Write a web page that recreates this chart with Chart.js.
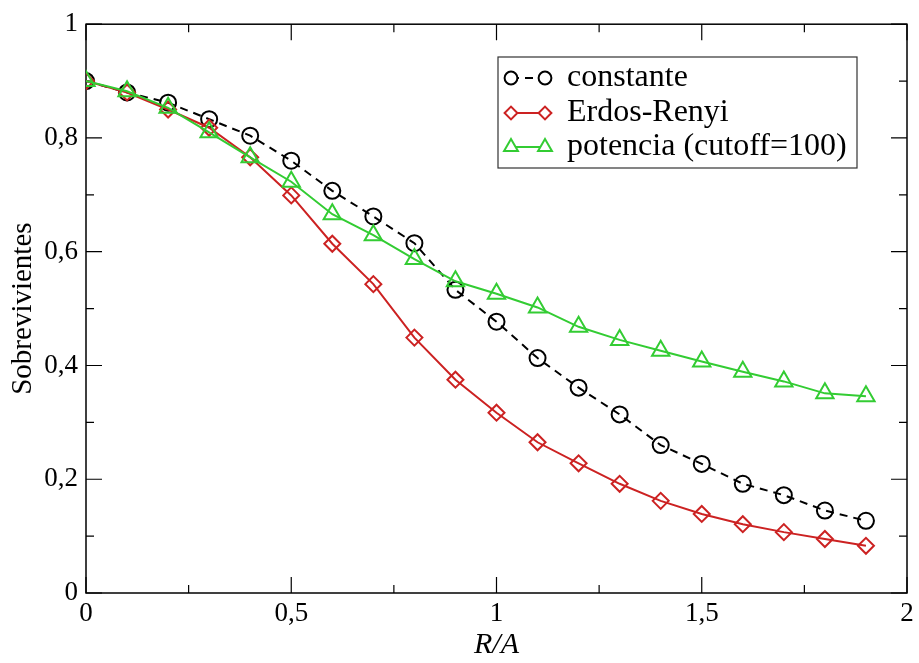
<!DOCTYPE html>
<html>
<head>
<meta charset="utf-8">
<script src="https://cdn.jsdelivr.net/npm/chart.js@4/dist/chart.umd.min.js"></script>
<style>
  html, body { margin: 0; padding: 0; background: #fff; }
  #wrap { width: 919px; height: 663px; }
</style>
</head>
<body>
<div id="wrap"><canvas id="sobrevChart"></canvas></div>
<script>
// R/A en el eje x
const radios = [0, 0.1, 0.2, 0.3, 0.4, 0.5, 0.6, 0.7, 0.8, 0.9,
                1.0, 1.1, 1.2, 1.3, 1.4, 1.5, 1.6, 1.7, 1.8, 1.9];

const constante = [0.900, 0.880, 0.862, 0.833, 0.804, 0.760, 0.707, 0.662, 0.615, 0.533,
                   0.477, 0.413, 0.361, 0.314, 0.260, 0.227, 0.192, 0.172, 0.145, 0.127];
const erdosRenyi = [0.900, 0.880, 0.850, 0.818, 0.766, 0.699, 0.614, 0.543, 0.449, 0.375,
                    0.317, 0.265, 0.228, 0.192, 0.162, 0.139, 0.121, 0.107, 0.095, 0.083];
const potencia = [0.900, 0.882, 0.853, 0.810, 0.766, 0.723, 0.666, 0.629, 0.587, 0.548,
                  0.526, 0.502, 0.468, 0.445, 0.426, 0.407, 0.389, 0.372, 0.351, 0.346];

const xTicks = [0, 0.5, 1, 1.5, 2];
const yTicks = [0, 0.2, 0.4, 0.6, 0.8, 1];

const serif = "'Liberation Serif', 'Times New Roman', serif";
const coma = v => String(Math.round(v * 10) / 10).replace('.', ',');
const puntos = ys => radios.map((x, i) => ({ x: x, y: ys[i] }));

// marco con marcas hacia adentro en los cuatro lados
const marco = {
    id: 'marco',
    beforeDatasetsDraw(chart) {
        const { ctx, chartArea: a, scales: { x, y } } = chart;
        ctx.save();
        ctx.strokeStyle = '#000';
        ctx.lineWidth = 1.5;
        ctx.strokeRect(a.left, a.top, a.right - a.left, a.bottom - a.top);
        ctx.lineWidth = 1.2;
        ctx.beginPath();
        for (let i = 0; i <= 8; i++) {
            const v = i * 0.25;
            const px = x.getPixelForValue(v);
            const len = i % 2 === 0 ? 16 : 8;
            ctx.moveTo(px, a.bottom); ctx.lineTo(px, a.bottom - len);
            ctx.moveTo(px, a.top); ctx.lineTo(px, a.top + len);
        }
        for (let i = 0; i <= 10; i++) {
            const v = i * 0.1;
            const py = y.getPixelForValue(v);
            const len = i % 2 === 0 ? 16 : 8;
            ctx.moveTo(a.left, py); ctx.lineTo(a.left + len, py);
            ctx.moveTo(a.right, py); ctx.lineTo(a.right - len, py);
        }
        ctx.stroke();
        ctx.restore();
    }
};

// leyenda al estilo xmgrace: dos símbolos unidos por la línea
const leyenda = {
    id: 'leyenda',
    afterDraw(chart) {
        const ctx = chart.ctx;
        const box = { x: 498, y: 57, w: 359, h: 111 };
        ctx.save();
        ctx.fillStyle = '#fff';
        ctx.fillRect(box.x, box.y, box.w, box.h);
        ctx.strokeStyle = '#333';
        ctx.lineWidth = 1.2;
        ctx.strokeRect(box.x, box.y, box.w, box.h);
        const filas = [78, 113, 147];
        chart.data.datasets.forEach((ds, i) => {
            const cy = filas[i];
            ctx.strokeStyle = ds.borderColor;
            ctx.lineWidth = ds.borderWidth;
            ctx.setLineDash(ds.borderDash || []);
            ctx.beginPath();
            ctx.moveTo(511, cy); ctx.lineTo(545, cy);
            ctx.stroke();
            ctx.setLineDash([]);
            const opts = { pointStyle: ds.pointStyle, radius: ds.pointRadius * 0.8, borderWidth: ds.borderWidth };
            ctx.fillStyle = '#fff';
            ctx.strokeStyle = ds.borderColor;
            Chart.helpers.drawPoint(ctx, opts, 511, cy);
            Chart.helpers.drawPoint(ctx, opts, 545, cy);
            ctx.fillStyle = '#000';
            ctx.font = '32px ' + serif;
            ctx.textBaseline = 'middle';
            ctx.fillText(ds.label, 567, cy);
        });
        ctx.restore();
    }
};

new Chart(document.getElementById('sobrevChart'), {
    type: 'line',
    data: {
        datasets: [
            {
                label: 'constante',
                data: puntos(constante),
                borderColor: '#000000',
                borderWidth: 2,
                borderDash: [8, 6],
                pointStyle: 'circle',
                pointRadius: 8,
                pointBorderWidth: 2,
                pointBackgroundColor: 'rgba(0,0,0,0)',
                order: 3,
            },
            {
                label: 'Erdos-Renyi',
                data: puntos(erdosRenyi),
                borderColor: '#cc2222',
                borderWidth: 2,
                pointStyle: 'rectRot',
                pointRadius: 8,
                pointBorderWidth: 2,
                pointBackgroundColor: 'rgba(0,0,0,0)',
                order: 2,
            },
            {
                label: 'potencia (cutoff=100)',
                data: puntos(potencia),
                borderColor: '#33cc33',
                borderWidth: 2,
                pointStyle: 'triangle',
                pointRadius: 10,
                pointBorderWidth: 2,
                pointBackgroundColor: 'rgba(0,0,0,0)',
                order: 1,
            },
        ],
    },
    options: {
        responsive: true,
        maintainAspectRatio: false,
        animation: false,
        layout: { padding: { top: 17, right: 10, left: 0, bottom: 0 } },
        plugins: {
            legend: { display: false },
            tooltip: { enabled: false },
        },
        scales: {
            x: {
                type: 'linear',
                min: 0,
                max: 2,
                afterFit: s => { s.height = 70; },
                afterBuildTicks: s => { s.ticks = xTicks.map(v => ({ value: v })); },
                grid: { display: false, drawTicks: false },
                border: { display: false },
                ticks: {
                    padding: 5,
                    color: '#000',
                    font: { family: serif, size: 27 },
                    callback: v => coma(v),
                },
                title: {
                    display: true,
                    text: 'R/A',
                    color: '#000',
                    padding: { top: 0, bottom: 0 },
                    font: { family: serif, size: 30, style: 'italic' },
                },
            },
            y: {
                min: 0,
                max: 1,
                afterFit: s => { s.width = 86; },
                afterBuildTicks: s => { s.ticks = yTicks.map(v => ({ value: v })); },
                grid: { display: false, drawTicks: false },
                border: { display: false },
                ticks: {
                    padding: 8,
                    color: '#000',
                    font: { family: serif, size: 27 },
                    callback: v => coma(v),
                },
                title: {
                    display: true,
                    text: 'Sobrevivientes',
                    color: '#000',
                    padding: { top: 6, bottom: 0 },
                    font: { family: serif, size: 29 },
                },
            },
        },
    },
    plugins: [marco, leyenda],
});
</script>
</body>
</html>
